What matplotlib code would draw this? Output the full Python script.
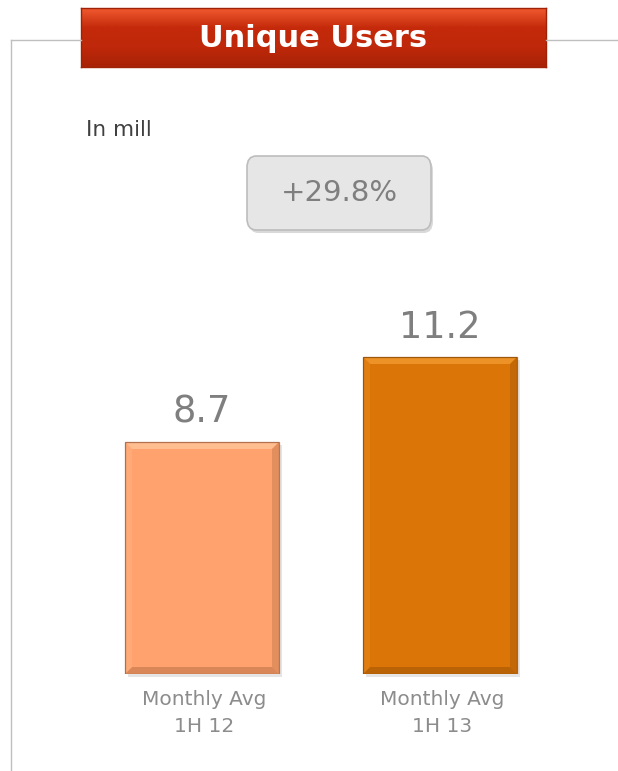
import matplotlib
matplotlib.use("Agg")
import matplotlib.pyplot as plt
import numpy as np
from matplotlib.patches import FancyBboxPatch, Rectangle, Polygon
from matplotlib.colors import LinearSegmentedColormap

# ---- data ----
categories = ["Monthly Avg\n1H 12", "Monthly Avg\n1H 13"]
values = [8.7, 11.2]
value_labels = ["8.7", "11.2"]
bar_colors = ["#FFA26D", "#DB7508"]
title = "Unique Users"
unit_label = "In mill"
growth_label = "+29.8%"

W, H = 618, 771
fig = plt.figure(figsize=(W / 100, H / 100), dpi=100)
fig.patch.set_facecolor("white")


def fx(x):
    return x / W


def fy(y):
    return 1 - y / H


# title box extents (pixels)
tb = [81, 8, 546, 67]

# ---- frame lines ----
frame_color = "#BFBFBF"
fig.add_artist(plt.Line2D([fx(11), fx(tb[0])], [fy(40), fy(40)], color=frame_color, lw=1))
fig.add_artist(plt.Line2D([fx(tb[2]), fx(618)], [fy(40), fy(40)], color=frame_color, lw=1))
fig.add_artist(plt.Line2D([fx(11), fx(11)], [fy(40), fy(771)], color=frame_color, lw=1))

# ---- main axes ----
ax_left, ax_right, ax_top, ax_bottom = 11, 618, 40, 674
ax = fig.add_axes([fx(ax_left), fy(ax_bottom), fx(ax_right - ax_left), (ax_bottom - ax_top) / H])
ax.set_facecolor("none")
px_per_cat = 238
x0_px = 202
ax.set_xlim((ax_left - x0_px) / px_per_cat, (ax_right - x0_px) / px_per_cat)
ymin = 1.876
px_per_unit = 34.0
ax.set_ylim(ymin, ymin + (ax_bottom - ax_top) / px_per_unit)
for s in ax.spines.values():
    s.set_visible(False)
ax.set_xticks([])
ax.set_yticks([])

xpos = np.arange(len(values))
bar_w = 154 / px_per_cat
bars = ax.bar(xpos, values, width=bar_w, color=bar_colors, edgecolor="none", zorder=3)

dxp = 1 / px_per_cat
dyp = 1 / px_per_unit
shade_dark = ["#A0603A", "#8A4A05"]
shade_light = ["#FFC49A", "#F29A30"]
for b, dark, light in zip(bars, shade_dark, shade_light):
    x, w, h = b.get_x(), b.get_width(), b.get_height()
    top = h
    bot = ymin
    bv = 7
    ax.add_patch(Polygon([[x, top], [x + w, top], [x + w - bv * dxp, top - bv * dyp], [x + bv * dxp, top - bv * dyp]],
                         closed=True, color=light, alpha=0.8, zorder=4, lw=0))
    ax.add_patch(Polygon([[x + w, top], [x + w, bot], [x + w - bv * dxp, bot + bv * dyp], [x + w - bv * dxp, top - bv * dyp]],
                         closed=True, color=dark, alpha=0.3, zorder=4, lw=0))
    ax.add_patch(Polygon([[x, bot], [x + w, bot], [x + w - bv * dxp, bot + bv * dyp], [x + bv * dxp, bot + bv * dyp]],
                         closed=True, color=dark, alpha=0.4, zorder=4, lw=0))
    ax.add_patch(Polygon([[x, top], [x, bot], [x + bv * dxp, bot + bv * dyp], [x + bv * dxp, top - bv * dyp]],
                         closed=True, color=light, alpha=0.25, zorder=4, lw=0))
    ax.add_patch(Rectangle((x, bot), w, top - bot, fill=False, edgecolor=dark, lw=0.9, alpha=0.8, zorder=5))
    ax.add_patch(Rectangle((x + 3 * dxp, bot - 3 * dyp), w, top - bot, color="#000000", alpha=0.10, zorder=2, lw=0,
                           clip_on=False))

for xi, v, lab in zip(xpos, values, value_labels):
    ax.text(xi, v + 11 * dyp, lab, ha="center", va="bottom", fontsize=26.5, color="#7F7F7F", zorder=6)

for xi, cat in zip(xpos, categories):
    ax.text(xi + 2 * dxp, ymin - 16 * dyp, cat, ha="center", va="top", fontsize=14.5, color="#8C8C8C",
            linespacing=1.5, clip_on=False)

# ---- title box with gradient ----
tax = fig.add_axes([fx(tb[0]), fy(tb[3]), fx(tb[2] - tb[0]), (tb[3] - tb[1]) / H])
cmap_t = LinearSegmentedColormap.from_list("t", ["#F05A30", "#C42A0A", "#BF280A", "#A82206"])
grad = np.linspace(0, 1, 100).reshape(-1, 1)
tax.imshow(grad, aspect="auto", cmap=cmap_t, extent=[0, 1, 0, 1], origin="upper")
tax.set_xlim(0, 1)
tax.set_ylim(0, 1)
tax.set_xticks([])
tax.set_yticks([])
for s in tax.spines.values():
    s.set_color("#A02206")
    s.set_linewidth(1)
tax.text(0.5, 0.48, title, ha="center", va="center", fontsize=22, fontweight="bold", color="white")

# ---- unit label ----
fig.text(fx(86), fy(130), unit_label, ha="left", va="center", fontsize=15.5, color="#404040")

# ---- growth badge ----
bx0, by0, bx1, by1 = 247, 156, 431, 230
shadow = FancyBboxPatch((fx(bx0 + 2), fy(by1 + 3)), fx(bx1 - bx0), (by1 - by0) / H,
                        boxstyle="round,pad=0,rounding_size=0.015", transform=fig.transFigure,
                        facecolor="#000000", alpha=0.15, edgecolor="none")
fig.add_artist(shadow)
badge = FancyBboxPatch((fx(bx0), fy(by1)), fx(bx1 - bx0), (by1 - by0) / H,
                       boxstyle="round,pad=0,rounding_size=0.015", transform=fig.transFigure,
                       facecolor="#E6E6E6", edgecolor="#BDBDBD", lw=1.2)
fig.add_artist(badge)
fig.text(fx((bx0 + bx1) / 2), fy((by0 + by1) / 2), growth_label, ha="center", va="center",
         fontsize=21, color="#7F7F7F")

fig.savefig("out.png", dpi=100)
